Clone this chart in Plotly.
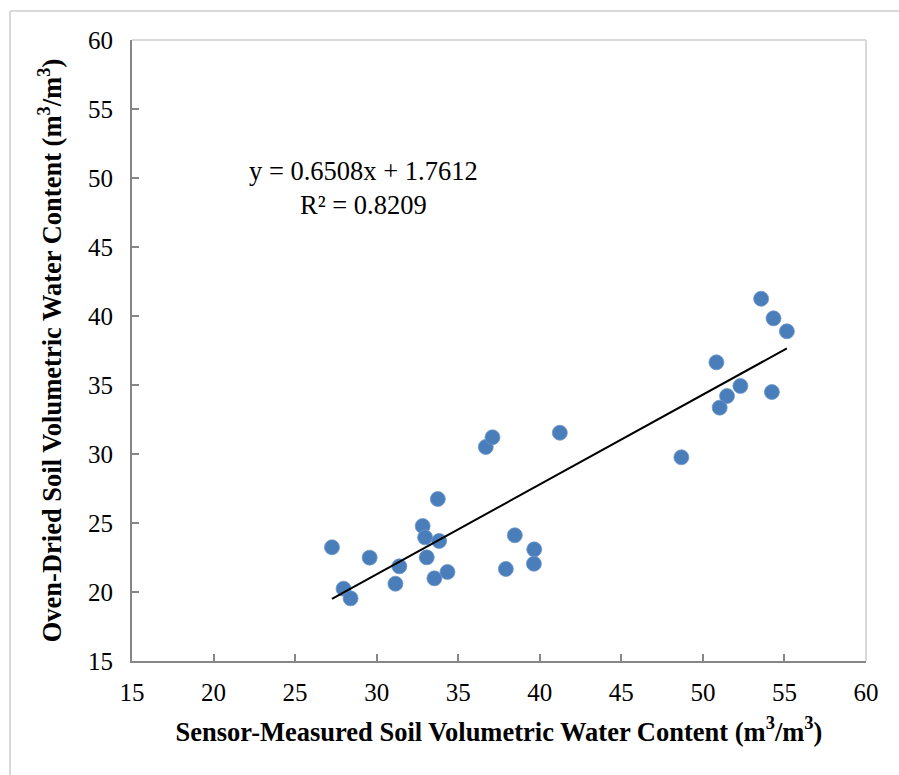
import plotly.graph_objects as go

# Sensor-measured VWC (x) and oven-dried VWC (y)
sensor_vwc = [27.26, 27.97, 28.40, 29.57, 31.39, 31.15, 32.82, 32.97, 33.07, 33.83,
              33.75, 33.54, 34.34, 36.69, 37.10, 41.23, 38.47, 37.92, 39.66, 39.64,
              53.57, 54.33, 55.15, 50.83, 52.30, 51.48, 51.03, 54.23, 48.68]
oven_vwc = [23.24, 20.24, 19.54, 22.49, 21.86, 20.60, 24.78, 23.96, 22.51, 23.70,
            26.74, 20.99, 21.45, 30.51, 31.21, 31.54, 24.11, 21.67, 23.09, 22.05,
            41.25, 39.83, 38.89, 36.64, 34.93, 34.20, 33.36, 34.49, 29.76]

slope = 0.6508
intercept = 1.7612
r_squared = 0.8209

x_ticks = [15, 20, 25, 30, 35, 40, 45, 50, 55, 60]
y_ticks = [15, 20, 25, 30, 35, 40, 45, 50, 55, 60]

x_title = "Sensor-Measured Soil Volumetric Water Content (m<sup>3</sup>/m<sup>3</sup>)"
y_title = "Oven-Dried Soil Volumetric Water Content (m<sup>3</sup>/m<sup>3</sup>)"

line_x = [min(sensor_vwc), max(sensor_vwc)]
line_y = [slope * v + intercept for v in line_x]

FONT = "Liberation Serif"

fig = go.Figure()
fig.add_trace(go.Scatter(
    x=sensor_vwc, y=oven_vwc, mode="markers",
    marker=dict(size=15, color="#4a7ebb", line=dict(color="#6f97c9", width=0.8)),
    showlegend=False, cliponaxis=False))
fig.add_trace(go.Scatter(
    x=line_x, y=line_y, mode="lines",
    line=dict(color="black", width=2), showlegend=False))

fig.add_annotation(
    x=29.18, y=49.3, xref="x", yref="y", showarrow=False,
    text=f"y = {slope}x + {intercept}<br>R² = {r_squared}",
    font=dict(family=FONT, size=26.5, color="black"), align="center")

axis_common = dict(
    showgrid=False, zeroline=False, showline=True, linecolor="#868686", linewidth=2,
    ticks="inside", ticklen=7, tickcolor="#868686", tickwidth=2,
    tickfont=dict(family=FONT, size=25, color="black"),
)

fig.update_xaxes(range=[15, 60], tickvals=x_ticks, ticktext=[str(t) for t in x_ticks],
                 ticklabelstandoff=8,
                 title=dict(text=x_title, font=dict(family=FONT, size=26.5, color="black", weight="bold"), standoff=17),
                 **axis_common)
fig.update_yaxes(range=[15, 60], tickvals=y_ticks, ticktext=[str(t) for t in y_ticks],
                 ticklabelstandoff=12,
                 title=dict(text=y_title, font=dict(family=FONT, size=26.5, color="black", weight="bold"), standoff=19),
                 **axis_common)

# plot area top/right border and outer chart border
fig.add_shape(type="line", xref="paper", yref="paper", x0=0, x1=1, y0=1, y1=1,
              line=dict(color="#d9d9d9", width=2))
fig.add_shape(type="line", xref="paper", yref="paper", x0=1, x1=1, y0=0, y1=1,
              line=dict(color="#d9d9d9", width=2))
fig.add_shape(type="line", xref="paper", yref="paper", x0=-0.1662, x1=1.1, y0=1.0467, y1=1.0467,
              line=dict(color="#d9d9d9", width=2))
fig.add_shape(type="line", xref="paper", yref="paper", x0=-0.1662, x1=-0.1662, y0=1.0467, y1=-0.3,
              line=dict(color="#d9d9d9", width=2))

fig.update_layout(
    width=899, height=775,
    margin=dict(l=132, r=33, t=40, b=114),
    paper_bgcolor="white", plot_bgcolor="white",
    font=dict(family=FONT, color="black"),
)

fig.write_html("out.html")
